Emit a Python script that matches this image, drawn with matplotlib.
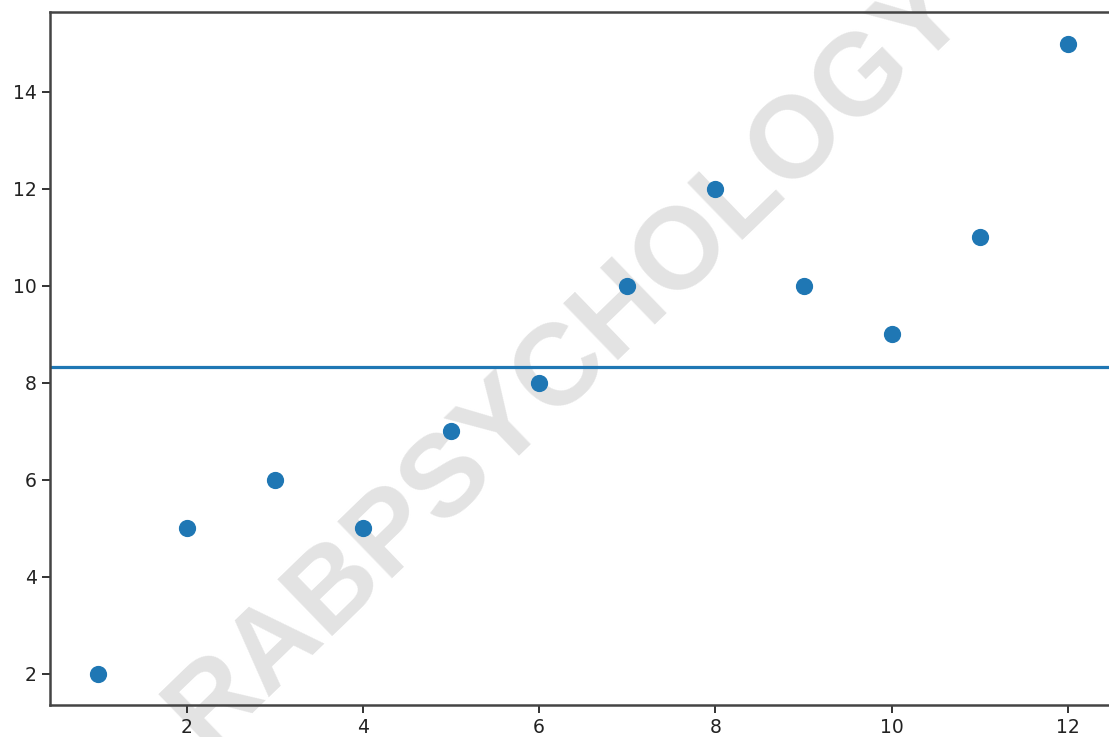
import numpy as np
import matplotlib
matplotlib.use("Agg")
import matplotlib.pyplot as plt

# data
x = [1, 2, 3, 4, 5, 6, 7, 8, 9, 10, 11, 12]
y = [2, 5, 6, 5, 7, 8, 10, 12, 10, 9, 11, 15]
x_ticks = [2, 4, 6, 8, 10, 12]
y_ticks = [2, 4, 6, 8, 10, 12, 14]
watermark = "RABPSYCHOLOGY"

fig = plt.figure(figsize=(11.09, 7.37), dpi=100)
# right edge of the axes runs past the picture, as in the reference crop
ax = fig.add_axes([50/1109, 32/737, 1066.5/1109, 693/737])

ax.scatter(x, y, s=130, color="#1f77b4", zorder=3)
ax.axhline(np.mean(y), color="#1f77b4", lw=2.3, zorder=2)

ax.set_xticks(x_ticks)
ax.set_yticks(y_ticks)
ax.tick_params(labelsize=13.5, length=6, width=1.4, colors="#333333", labelcolor="#222222")
for s in ax.spines.values():
    s.set_linewidth(1.8)
    s.set_color("#444444")

## watermark under the data
ax.text(567/1109, 1 - 360/737, watermark, transform=fig.transFigure,
        fontsize=83, fontweight="bold", family="Liberation Sans",
        color="#e3e3e3", rotation=44, rotation_mode="anchor",
        ha="center", va="center", zorder=0.5, clip_on=False)

fig.savefig("out.png", dpi=100)
